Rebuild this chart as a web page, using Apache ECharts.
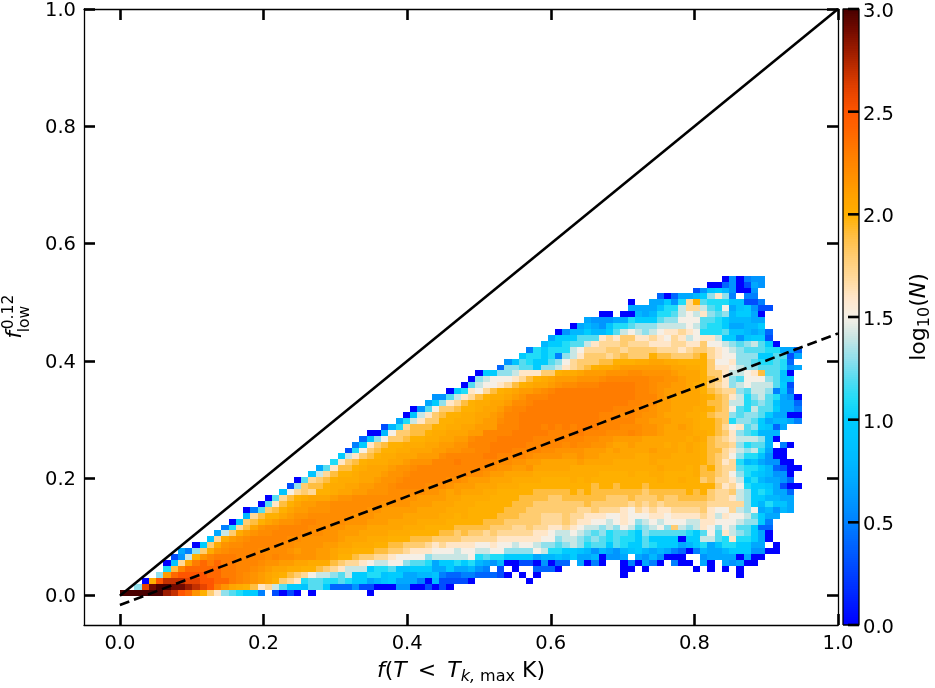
<!DOCTYPE html>
<html><head><meta charset="utf-8">
<style>html,body{margin:0;padding:0;background:#fff}#c{width:935px;height:688px}</style>
<script src="https://cdn.jsdelivr.net/npm/echarts@6/dist/echarts.min.js"></script>
</head><body><div id="c"></div>
<script>
// One string per histogram row (bottom to top); one character per column, '.' = empty bin.
// The level of each other character is given by levelChars / levelValues below.
const rowCodes = [
"GGGGGGEDBA okigdcbaa5 .3030.0... ....0.....",
"..dCFGGFFE DCBromlkjg hecaa9cca4 4463300066 003030....",
"...0kBDDDC CBBAArqpon mkihgbccbb cbaa789a77 750833330. ......0...",
".....dnABB BBAArrqpon mlkjihfeed ceaabb9aa7 7889544554 4430.0.0.. .........0 .......... .....0....",
"......bjqA AAAArrqqpo nmmllkkjih geeeabbc99 aaa77a7786 5.3.0..444 0........0 0.0......0 .0.0.0....",
"......09hm rArArrqqqp oonnmmlllj ihhgfeeffd ccb7aabab8 7680033060 44.7050..0 50750.500. 70.76700..",
".......36e koqrrrqqqq pqppooonnm kkjiihhgff ffdeeeeefb cbbaaaa788 98a7780667 .7686000.. 677770700.",
"........75 dilopqqqqp ppponoonnm llkkkjjiih gggfffeffe effddddfeb baa9868768 9a87875405 8778aaa660 0",
".......... 0ailoppqqq qqppoooonn mmlllkkjji iihghggggf fgffeffedd cdedbccacb aacbaaa78a b79bbaa77. 0",
".......... ..9hlnopqq qqqppooooo nmmmlllkkk jjjiiiihhh hhggggggff deedcdcbcb bacaaaa0aa eecbgbba70",
".......... ...7eilnop pqqqqpppoo nnnmmmmlll kkkkjjijii hihhhhhggf eefedcdbcc badcccccba cfcgedca70",
".......... ....5bhjmo ppqqqqpppo onnnmmmmml llkkkkjjjj jiiihhihhg ghgfeededf ecdefdiede gfdfecca44",
".......... .....09ijk mnoopqqppp pooonnnmmm mllllkkkkk jjjiiiiihh hihggffefg fdefefffee ggfffedda5",
".......... .......8hj kkmnoopppp ppooonnnnm mmmmllklkk kkjjjiiihh hihhgggffg fffggfgggg hgegffeca7 7",
".......... .......05c ijkmnnooop ppppoonnnn nmmmmlllkk kkkjjjiiii iiihhihhhg fhghgghhhh igffhedf78 687",
".......... .........0 cgjkmnnoop ppppppoooo nnnmmmlllk kkkkjjjiii iiiijiiiii hihihiiiii ihhhhhda8b 997",
".......... .......... 0chjklmmmn oopppppppo onnnnmmlll lkkkkjjjji ijjjjjjiii jiiijiijjj jihhgedaa8 877",
".......... .......... ..9fhihkkl mmnnoooppp ppoonmnmmm llkkkkkjjj jjkjkjjjjj jjijjjjjkj kihhiedaba 774",
".......... .......... ...3dijjkl lmmnnoopqq qqppponnnm mmlllkkkkk kkkkkjkkjk kkjkkkkkkk kkighfbaa9 7300",
".......... .......... ....0chijk lllmmnoopq qqqqqpponn nmmmllllkk kklklkkkkk kkkklkklkk ijhhgeab87 764",
".......... .......... ......9ehj kklmmmnoop qqqqqqqqpp onnmmmmlll llllllkkkk lkkllkkkkl jjihfdba98 660",
".......... .......... .......7cg jjklmmmnoo pqqqqqqqqq ppoonnommm mmllllllll llllmlllkl jkihhcbba8 4300",
".......... .......... .........b gijklllmmn oooqqqrqqq qqppoonnmm mmmnmmmmll lllmllllll kjighb8976 600",
".......... .......... .......... aegijkllmm mnnnpqqqqq rrqqqqpooo onnonnmmmm mllmmmllll kjihfdbb96 00",
".......... .......... .......... .3bfijkkll mmmnnooppq qrrrqqqqpp oooonnnmnm mmmnmmmlml kjjhgedeb7 00",
".......... .......... .......... ..5agijkkl llmmnnooqq qrrrrrqqqq qpqppoonmm nmmmmlmlml kjiihdbcc8 .50",
".......... .......... .......... ...49dfiij kkllmmnnpq qqrrrrrqqq qqqqppoonn nnmmmmmmlm ljihgeeed8 0",
".......... .......... .......... ....008fii jjkllmmmnn qqqqrrrrrq qqrrqqqppp qpoonmmmml lkjigdcb88 8",
".......... .......... .......... ......38bh jjjkkllmmn nnqqqrrrqr qrqrrrqqqp ppoonmmnml kkjhfgcda9 47",
".......... .......... .......... ........7b egiikklllm nnpqqrrrrr rrrrrrqqqq qoonnnmmml kkjibddca7 8875",
".......... .......... .......... .........0 9egijkkllm mnoqqrrrrr rrrrrrqqqp qpoonmmmll kjiidcddca 7700",
".......... .......... .......... .......... 06cfiijkkl mmnpqqrrrr rrrrrrrrqq qpponnmmml lkjifcbecc a775",
".......... .......... .......... .......... ..7adghjkl lmmnppqrrr rrrrrrrrrr qqppnnmmmm ljjieebcdc 9774",
".......... .......... .......... .......... ...66ceghj kllmnoqqqr rrrrrrrrrr rqqqonmmmm lkjigebdec b760",
".......... .......... .......... .......... .....0abgf hjklmnnopq rrrrrrrrrr rqqponnnmm kjihhdceed 594",
".......... .......... .......... .......... .......0ce ffghjklmmn oppqqqrrrr rqqpoonnml kihgdefeee ca3",
".......... .......... .......... .......... ........0d efffghjklm nnnooopqqq qqqppoonmm kjigdcfffd c99",
".......... .......... .......... .......... .........0 aaddegggii kllmnnnooo ppoooonmmm kiigeefgjc c90",
".......... .......... .......... .......... .......... ..4ddccadd eghijkllmn nnnnnnmmll kiggfeddcc cb67",
".......... .......... .......... .......... .......... ...69cbaac dfhiiijjkk kllmmllkkk kiffgddcbb cb4",
".......... .......... .......... .......... .......... .....abbab 5degiiihij iiikjjiiij khgffdddaa cc37",
".......... .......... .......... .......... .......... ......5bab bbefhhhiih iiiihhhghi ihgfedcccb b774",
".......... .......... .......... .......... .......... ........8a abcceghhhi hhhggghhgg iffedcdeca 0",
".......... .......... .......... .......... .......... .........7 aaacccghgi igghgfhgef ggeaa69aa3",
".......... .......... .......... .......... .......... .......... 0688a88ace fedefgghgf bbbc998784",
".......... .......... .......... .......... .......... .......... ..078769bb cdddeeeefe cbba7788a.",
".......... .......... .......... .......... .......... .......... ....766677 baaacddfff ccba88877.",
".......... .......... .......... .......... .......... .......... ......00.0 0878bbcefe gdcd8aa70.",
".......... .......... .......... .......... .......... .......... .......... 77779bbehh ecbf79a633",
".......... .......... .......... .......... .......... .......... .......... 0..77a6bhk cbbb99335.",
".......... .......... .......... .......... .......... .......... .......... ....404778 adgd5.55..",
".......... .......... .......... .......... .......... .......... .......... .........3 69a86006..",
".......... .......... .......... .......... .......... .......... .......... .......... .00460376.",
".......... .......... .......... .......... .......... .......... .......... .......... ...060566."
];
const binStep = 1 / 99;
const levelChars = "0123456789abcdefghijklmnopqrABCDEFG";
const levelValues = [0,0.1,0.2,0.3,0.4,0.5,0.6,0.7,0.8,0.9,1.0,1.1,1.2,1.3,1.4,1.5,1.6,1.7,1.8,1.9,
  2.0,2.03,2.07,2.12,2.17,2.21,2.25,2.3,2.4,2.5,2.6,2.7,2.8,2.9,3.0];
const axisTicks = [0, 0.2, 0.4, 0.6, 0.8, 1.0];
const barTicks = [0, 0.5, 1.0, 1.5, 2.0, 2.5, 3.0];
const oneToOneLine = [[0, 0], [1, 1]];
const fitLine = [[0, -0.016], [1, 0.447]];
const barFrame = [[0, 0], [1, 0], [1, 3], [0, 3], [0, 0]];
const colorStops = ['#0000ff','#0018ff','#0033ff','#004dff','#0066ff','#0080ff','#0095ff','#00a8ff','#00b8ff','#00c4ff','#00ccff',
 '#20dcf8','#55dcf0','#90e0ec','#c8e6e4','#f5efe6','#ffe6c8','#ffd898','#ffcc70','#ffbe40','#ffb000',
 '#ffa000','#ff8e00','#ff7c00','#ff6800','#ff5500','#e84400','#c43000','#9c1c00','#720a00','#4a0000'];

const cells = [];
rowCodes.forEach((code, r) => {
  code.replace(/ /g, '').split('').forEach((ch, c) => {
    const i = levelChars.indexOf(ch);
    if (i >= 0) cells.push([c * binStep, r * binStep, levelValues[i]]);
  });
});
// Colour ramp of the colour bar: one strip per 0.01 of log10(N).
const barStep = 0.01;
const barStrips = [];
for (let i = 0; i < 300; i++) barStrips.push([0, i * barStep, (i + 0.5) * barStep]);

const FONT = '"DejaVu Sans"';
const tickLabel = {fontFamily: FONT, fontSize: 19.5, color: '#000'};
const shifted = pad => ({
  show: true, formatter: v => '{a|' + v.toFixed(1) + '}',
  rich: {a: Object.assign({padding: [pad, 0, 0, 0]}, tickLabel)}
});
const lineBlack = {show: true, onZero: false, lineStyle: {color: '#000', width: 1.3}};
const tickIn = {show: true, inside: true, length: 11, lineStyle: {color: '#000', width: 2.6}, customValues: axisTicks};
function mainAxis(position, labels, extra) {
  return Object.assign({
    type: 'value', gridIndex: 0, position, min: -0.05, max: 1.0,
    axisLine: lineBlack, axisTick: tickIn, splitLine: {show: false},
    axisLabel: labels ? Object.assign({show: true, margin: 9, customValues: axisTicks, formatter: v => v.toFixed(1)}, tickLabel) : {show: false}
  }, extra || {});
}
const chart = echarts.init(document.getElementById('c'), null, {renderer: 'canvas'});
chart.setOption({
  animation: false,
  backgroundColor: '#fff',
  grid: [
    {left: 84, right: 97, top: 9, bottom: 63, outerBoundsMode: 'none'},
    {left: 843, width: 16, top: 9, bottom: 63, outerBoundsMode: 'none'}
  ],
  xAxis: [
    mainAxis('bottom', true, {
      name: '{i|f}{n|(}{i|T}{lt| < }{i|T}{s|k,}{t| max}{n| K)}',
      nameLocation: 'middle', nameGap: 32,
      nameTextStyle: {rich: {
        i: {fontFamily: FONT, fontStyle: 'italic', fontSize: 22, color: '#000'},
        n: {fontFamily: FONT, fontSize: 22, color: '#000'},
        lt: {fontFamily: FONT, fontSize: 22, color: '#000', padding: [0, 4, 0, 4]},
        s: {fontFamily: FONT, fontStyle: 'italic', fontSize: 16, color: '#000', padding: [12, 0, 0, 0]},
        t: {fontFamily: FONT, fontSize: 16, color: '#000', padding: [12, 0, 0, 0]}
      }}
    }),
    mainAxis('top', false),
    {type: 'value', gridIndex: 1, show: false, min: 0, max: 1}
  ],
  yAxis: [
    mainAxis('left', true, {axisLabel: Object.assign(shifted(3), {margin: 8, customValues: axisTicks})}),
    mainAxis('right', false),
    {
      type: 'value', gridIndex: 1, position: 'right', min: 0, max: 3,
      axisLine: {show: false, onZero: false},
      axisTick: {show: false},
      splitLine: {show: false},
      axisLabel: Object.assign(shifted(6), {margin: 4, customValues: barTicks}),
      name: '{n|log}{s|10}{n|(}{i|N}{n|)}', nameLocation: 'middle', nameRotate: 90, nameGap: 46,
      nameTextStyle: {rich: {
        i: {fontFamily: FONT, fontStyle: 'italic', fontSize: 22, color: '#000'},
        n: {fontFamily: FONT, fontSize: 22, color: '#000'},
        s: {fontFamily: FONT, fontSize: 16, color: '#000', padding: [12, 0, 0, 0]}
      }}
    }
  ],
  visualMap: {
    type: 'continuous', show: false, seriesIndex: [0, 3], dimension: 2, min: 0, max: 3,
    inRange: {color: colorStops}
  },
  series: [
    {
      type: 'custom', coordinateSystem: 'cartesian2d', xAxisIndex: 0, yAxisIndex: 0,
      data: cells, encode: {x: 0, y: 1}, silent: true, clip: true, z: 2, progressive: 0,
      renderItem: (params, api) => {
        const a = api.coord([api.value(0), api.value(1)]);
        const b = api.coord([api.value(0) + binStep, api.value(1) + binStep]);
        const x0 = Math.round(a[0]), x1 = Math.round(b[0]), y0 = Math.round(a[1]), y1 = Math.round(b[1]);
        return {type: 'rect', shape: {x: x0, y: y1, width: x1 - x0, height: y0 - y1}, style: {fill: api.visual('color')}};
      }
    },
    {type: 'line', xAxisIndex: 0, yAxisIndex: 0, data: oneToOneLine, showSymbol: false, silent: true, z: 3,
      lineStyle: {color: '#000', width: 2.6}},
    {type: 'line', xAxisIndex: 0, yAxisIndex: 0, data: fitLine, showSymbol: false, silent: true, z: 3,
      lineStyle: {color: '#000', width: 2.6, type: [10, 5]}},
    {
      type: 'custom', coordinateSystem: 'cartesian2d', xAxisIndex: 2, yAxisIndex: 2,
      data: barStrips, encode: {x: 0, y: 1}, silent: true, clip: false, z: 5, progressive: 0,
      renderItem: (params, api) => {
        const a = api.coord([0, api.value(1)]);
        const b = api.coord([1, api.value(1) + barStep]);
        const y0 = Math.ceil(a[1]), y1 = Math.floor(b[1]);
        return {type: 'rect', shape: {x: a[0], y: y1, width: b[0] - a[0], height: y0 - y1}, style: {fill: api.visual('color')}};
      }
    },
    {type: 'line', xAxisIndex: 2, yAxisIndex: 2, data: barFrame, showSymbol: false, silent: true, clip: false, z: 10,
      lineStyle: {color: '#000', width: 1.3}}
  ]
});
// Colour-bar tick marks: placed through the colour bar's own axes, on top of the ramp.
const barFinder = {xAxisIndex: 2, yAxisIndex: 2};
const barTickMarks = barTicks.map(v => {
  const right = chart.convertToPixel(barFinder, [1, v]);
  const left = chart.convertToPixel(barFinder, [0.3125, v]);
  return {type: 'rect', z: 100, silent: true, shape: {x: left[0], y: right[1] - 1.3, width: right[0] - left[0], height: 2.6}, style: {fill: '#000'}};
});
const yTitleParts = [
  {type: 'text', x: 15, y: 335, rotation: Math.PI / 2, silent: true, style: {text: 'f', fontFamily: FONT, fontStyle: 'italic', fontSize: 22, fill: '#000', textAlign: 'center', textVerticalAlign: 'middle'}},
  {type: 'text', x: 9, y: 312, rotation: Math.PI / 2, silent: true, style: {text: '0.12', fontFamily: FONT, fontSize: 15.5, fill: '#000', textAlign: 'center', textVerticalAlign: 'middle'}},
  {type: 'text', x: 25, y: 319, rotation: Math.PI / 2, silent: true, style: {text: 'low', fontFamily: FONT, fontSize: 15.5, fill: '#000', textAlign: 'center', textVerticalAlign: 'middle'}}
];
chart.setOption({graphic: yTitleParts.concat(barTickMarks)});
</script></body></html>
